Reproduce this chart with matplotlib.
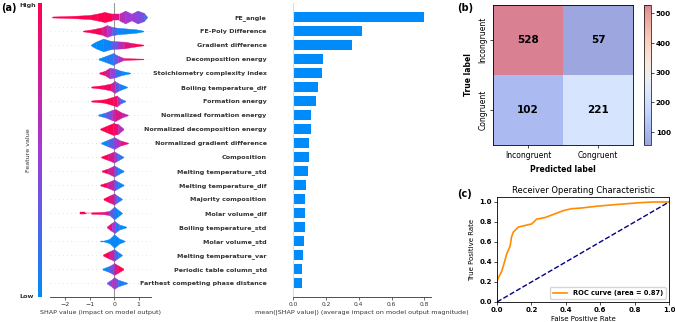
import numpy as np
import matplotlib
matplotlib.use("Agg")
import matplotlib.pyplot as plt
from matplotlib.colors import LinearSegmentedColormap
from matplotlib.cm import ScalarMappable

# Feature importance data
features = ["FE_angle", "FE-Poly Difference", "Gradient difference",
            "Decomposition energy", "Stoichiometry complexity index",
            "Boiling temperature_dif", "Formation energy",
            "Normalized formation energy", "Normalized decomposition energy",
            "Normalized gradient difference", "Composition",
            "Melting temperature_std", "Melting temperature_dif",
            "Majority composition", "Molar volume_dif",
            "Boiling temperature_std", "Molar volume_std",
            "Melting temperature_var", "Periodic table column_std",
            "Farthest competing phase distance"]
mean_abs_shap = [0.80, 0.42, 0.36, 0.185, 0.177, 0.154, 0.142, 0.112, 0.112,
                 0.100, 0.096, 0.089, 0.079, 0.075, 0.073, 0.071, 0.069,
                 0.059, 0.057, 0.053]

# Beeswarm outline per feature: SHAP value knots, half-width (rows), colour (0 low .. 1 high)
swarm_x = [
    [-2.53, -1.8, -1.0, -0.7, -0.4, -0.1, 0.2, 0.45, 0.7, 0.95, 1.2, 1.34],
    [-1.28, -0.9, -0.5, -0.3, -0.1, 0.1, 0.5, 0.9, 1.19],
    [-0.95, -0.75, -0.45, -0.15, 0.1, 0.4, 0.8, 1.19],
    [-0.64, -0.35, -0.05, 0.15, 0.4, 1.19],
    [-0.61, -0.4, -0.18, 0.05, 0.3, 0.65],
    [-0.94, -0.5, -0.15, 0.02, 0.2, 0.52],
    [-0.94, -0.4, -0.05, 0.1, 0.25, 0.45],
    [-0.65, -0.35, -0.1, 0.05, 0.3, 0.55],
    [-0.57, -0.3, -0.05, 0.15, 0.37],
    [-0.53, -0.25, 0.0, 0.25, 0.56],
    [-0.53, -0.25, 0.0, 0.15, 0.37],
    [-0.51, -0.25, 0.0, 0.15, 0.38],
    [-0.57, -0.3, 0.0, 0.15, 0.38],
    [-0.44, -0.2, 0.0, 0.12, 0.31],
    [-1.39, -1.2, -1.15, -0.95, -0.93, -0.5, -0.2, 0.0, 0.15, 0.31],
    [-0.3, -0.1, 0.02, 0.2, 0.49],
    [-0.57, -0.45, -0.2, 0.0, 0.2, 0.42],
    [-0.46, -0.2, 0.0, 0.15, 0.31],
    [-0.48, -0.2, 0.0, 0.15, 0.37],
    [-0.3, -0.1, 0.0, 0.15, 0.52],
]
swarm_w = [
    [0.03, 0.06, 0.12, 0.2, 0.3, 0.2, 0.2, 0.38, 0.2, 0.38, 0.25, 0.02],
    [0.02, 0.1, 0.22, 0.35, 0.25, 0.2, 0.15, 0.1, 0.02],
    [0.03, 0.2, 0.38, 0.25, 0.22, 0.2, 0.1, 0.02],
    [0.03, 0.18, 0.35, 0.2, 0.05, 0.02],
    [0.03, 0.12, 0.32, 0.25, 0.12, 0.02],
    [0.03, 0.1, 0.2, 0.35, 0.2, 0.02],
    [0.03, 0.1, 0.25, 0.33, 0.15, 0.02],
    [0.03, 0.15, 0.3, 0.35, 0.15, 0.02],
    [0.03, 0.2, 0.35, 0.3, 0.03],
    [0.03, 0.2, 0.35, 0.15, 0.02],
    [0.03, 0.18, 0.33, 0.2, 0.02],
    [0.03, 0.15, 0.33, 0.2, 0.02],
    [0.03, 0.15, 0.33, 0.2, 0.02],
    [0.03, 0.2, 0.33, 0.2, 0.02],
    [0.03, 0.03, 0.0, 0.0, 0.04, 0.06, 0.12, 0.38, 0.2, 0.02],
    [0.03, 0.25, 0.35, 0.15, 0.02],
    [0.03, 0.02, 0.12, 0.4, 0.15, 0.02],
    [0.03, 0.22, 0.35, 0.18, 0.02],
    [0.03, 0.18, 0.35, 0.22, 0.03],
    [0.03, 0.22, 0.35, 0.2, 0.02],
]
swarm_c = [
    [1, 1, 1, 1, 1, 1, 0.7, 0.5, 0.5, 0.45, 0.3, 0.2],
    [1, 1, 0.9, 0.6, 0.4, 0.1, 0, 0, 0],
    [0, 0, 0, 0.1, 0.5, 0.7, 1, 1],
    [0, 0, 0.2, 0.3, 0.9, 1],
    [1, 0.9, 0.6, 0.3, 0, 0],
    [1, 1, 0.9, 0.5, 0.1, 0],
    [1, 1, 1, 0.85, 0.3, 0],
    [0, 0.2, 0.5, 0.8, 0.8, 0.5],
    [1, 1, 1, 0.8, 0.4],
    [0, 0.1, 0.4, 0.7, 1],
    [1, 1, 0.6, 0.3, 0],
    [1, 1, 0.5, 0.1, 0],
    [1, 1, 0.4, 0.1, 0],
    [1, 1, 0.6, 0.2, 0],
    [1, 1, 1, 1, 1, 1, 0.5, 0.1, 0, 0],
    [1, 0.7, 0.3, 0, 0],
    [0, 0, 0, 0.05, 0, 0],
    [1, 1, 0.4, 0.1, 0],
    [0, 0.1, 0.6, 1, 1],
    [0.3, 0.5, 0.7, 0.2, 0],
]

# Confusion matrix
cm_values = np.array([[528, 57], [102, 221]])
cm_labels = ["Incongruent", "Congruent"]

# ROC curve
fpr = [0.0, 0.0, 0.012, 0.027, 0.041, 0.056, 0.076, 0.085, 0.095, 0.124, 0.163,
       0.202, 0.231, 0.279, 0.328, 0.386, 0.434, 0.492, 0.57, 0.667, 0.831, 0.907, 1.0]
tpr = [0.0, 0.21, 0.257, 0.305, 0.384, 0.479, 0.559, 0.654, 0.70, 0.749, 0.765,
       0.781, 0.829, 0.844, 0.876, 0.914, 0.933, 0.94, 0.956, 0.971, 0.993, 1.0, 1.0]
roc_auc = 0.87

W, H = 675, 322


def rect(x0, y0, x1, y1):
    return [x0 / W, 1 - y1 / H, (x1 - x0) / W, (y1 - y0) / H]


shap_cmap = LinearSegmentedColormap.from_list("shap", ["#008bfb", "#a13ad6", "#ff0051"])
txt = "#333333"
n = len(features)
ypos = np.arange(n)[::-1]
wscale = 1.2  # thickness of the swarm outlines

fig = plt.figure(figsize=(W / 100, H / 100), dpi=100)

# (a) beeswarm
ax1 = fig.add_axes(rect(50, 3, 151, 297))
for y in ypos:
    ax1.axhline(y, color="#cccccc", lw=0.5, dashes=(1, 5), zorder=0)
ax1.axvline(0, color="#999999", lw=0.8, zorder=1)
for i in range(n):
    xs, cs = swarm_x[i], swarm_c[i]
    ws = [w * wscale for w in swarm_w[i]]
    y = ypos[i]
    for j in range(len(xs) - 1):
        col = shap_cmap((cs[j] + cs[j + 1]) / 2)
        ax1.fill_between(xs[j:j + 2], [y - ws[j], y - ws[j + 1]], [y + ws[j], y + ws[j + 1]],
                         color=col, lw=0.3, zorder=2)
ax1.set_xlim(-2.62, 1.5)
ax1.set_ylim(-1, n)
ax1.set_yticks([])
for s in ["top", "right", "left"]:
    ax1.spines[s].set_visible(False)
ax1.spines["bottom"].set_color(txt)
ax1.spines["bottom"].set_linewidth(0.6)
ax1.set_xticks([-2, -1, 0, 1])
ax1.tick_params(axis="x", labelsize=4.5, colors=txt, length=2, width=0.5, pad=1.5)
ax1.set_xlabel("SHAP value (impact on model output)", fontsize=4.6, color=txt, labelpad=2)

cax1 = fig.add_axes(rect(38, 3, 42, 297))
cb1 = fig.colorbar(ScalarMappable(cmap=shap_cmap), cax=cax1)
cb1.outline.set_visible(False)
cb1.set_ticks([])
fig.text(28 / W, 1 - 6 / H, "High", fontsize=4.6, fontweight="bold", color=txt, ha="center", va="center")
fig.text(27 / W, 1 - 296 / H, "Low", fontsize=4.6, fontweight="bold", color=txt, ha="center", va="center")
fig.text(29 / W, 1 - 150 / H, "Feature value", fontsize=4.6, color=txt, rotation=90, ha="center", va="center")

# bar chart of mean |SHAP|
ax2 = fig.add_axes(rect(293, 3, 431, 297))
ax2.barh(ypos, mean_abs_shap, height=0.7, color="#008bfb")
ax2.set_xlim(0, 0.84)
ax2.set_ylim(-1, n)
ax2.set_yticks(ypos)
ax2.set_yticklabels(features, fontsize=4.6, fontweight="bold", color=txt)
ax2.tick_params(axis="y", length=0, pad=19)
ax2.set_xticks([0, 0.2, 0.4, 0.6, 0.8])
ax2.tick_params(axis="x", labelsize=4.2, colors=txt, length=2, width=0.5, pad=1.5)
for s in ["top", "right"]:
    ax2.spines[s].set_visible(False)
ax2.spines["left"].set_color("#dddddd")
ax2.spines["bottom"].set_color(txt)
ax2.spines["bottom"].set_linewidth(0.6)
ax2.set_xlabel("mean(|SHAP value|) (average impact on model output magnitude)",
               fontsize=4.6, color=txt, labelpad=2)

# (b) confusion matrix
ax3 = fig.add_axes(rect(493, 5, 633, 145))
im = ax3.imshow(cm_values, cmap="coolwarm", alpha=0.5, aspect="auto")
for r in range(2):
    for c in range(2):
        ax3.text(c, r, str(cm_values[r, c]), ha="center", va="center",
                 fontsize=7.5, fontweight="bold", color="black")
ax3.set_xticks([0, 1])
ax3.set_xticklabels(cm_labels, fontsize=5.5)
ax3.set_yticks([0, 1])
ax3.set_yticklabels(cm_labels, fontsize=5.5, rotation=90, va="center")
ax3.tick_params(length=2, width=0.5, pad=2)
ax3.set_xlabel("Predicted label", fontsize=5.5, fontweight="bold", labelpad=4)
ax3.set_ylabel("True label", fontsize=5.5, fontweight="bold", labelpad=4)
for s in ax3.spines.values():
    s.set_linewidth(0.6)
cax3 = fig.add_axes(rect(644, 5, 651, 145))
cb3 = fig.colorbar(im, cax=cax3)
cb3.set_ticks([100, 200, 300, 400, 500])
cb3.ax.tick_params(labelsize=5.2, length=2, width=0.5, pad=1.5)
for lab in cb3.ax.get_yticklabels():
    lab.set_fontweight("bold")
cb3.outline.set_linewidth(0.5)

# (c) ROC
ax4 = fig.add_axes(rect(497, 197, 669, 302))
ax4.plot(fpr, tpr, color="darkorange", lw=1.2, label="ROC curve (area = %0.2f)" % roc_auc)
ax4.plot([0, 1], [0, 1], color="navy", lw=1.0, linestyle="--")
ax4.set_xlim(0, 1)
ax4.set_ylim(0, 1.05)
ax4.set_xticks([0, 0.2, 0.4, 0.6, 0.8, 1.0])
ax4.set_yticks([0, 0.2, 0.4, 0.6, 0.8, 1.0])
ax4.tick_params(labelsize=5, length=2, width=0.5, pad=1.5)
for lab in ax4.get_xticklabels() + ax4.get_yticklabels():
    lab.set_fontweight("bold")
ax4.set_xlabel("False Positive Rate", fontsize=5, labelpad=2)
ax4.set_ylabel("True Positive Rate", fontsize=5, labelpad=3)
ax4.set_title("Receiver Operating Characteristic", fontsize=6, pad=3)
ax4.legend(loc="lower right", prop={"size": 4.8, "weight": "bold"}, handlelength=2.2)
for s in ax4.spines.values():
    s.set_linewidth(0.6)

# panel letters
fig.text(1 / W, 1 - 8 / H, "(a)", fontsize=7, fontweight="bold", va="center")
fig.text(457 / W, 1 - 8 / H, "(b)", fontsize=7, fontweight="bold", va="center")
fig.text(457 / W, 1 - 194 / H, "(c)", fontsize=7, fontweight="bold", va="center")

fig.savefig("out.png", dpi=100)
